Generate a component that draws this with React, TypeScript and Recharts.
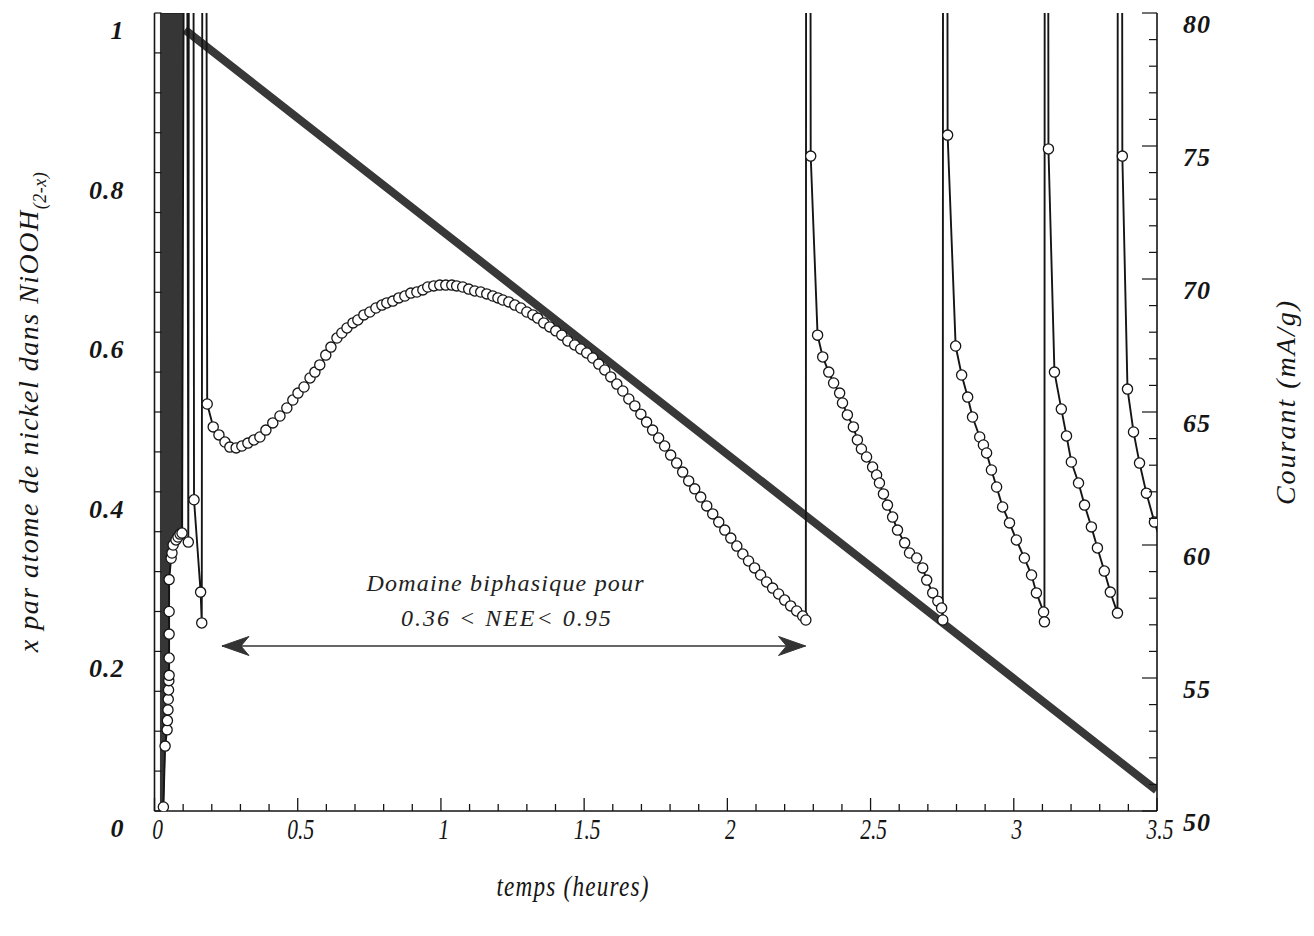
import React from 'react';
import { ComposedChart, Line, Area, XAxis, YAxis, ReferenceDot, Label } from 'recharts';

const FONT = '"Liberation Serif", "Times New Roman", Times, serif';
const INK = '#151515';

// ---- tick values ----
const xTicks = [0, 0.1, 0.2, 0.3, 0.4, 0.5, 0.6, 0.7, 0.8, 0.9, 1, 1.1, 1.2, 1.3, 1.4, 1.5, 1.6, 1.7, 1.8, 1.9, 2, 2.1, 2.2, 2.3, 2.4, 2.5, 2.6, 2.7, 2.8, 2.9, 3, 3.1, 3.2, 3.3, 3.4, 3.5];
const leftTicks = [0, 0.05, 0.1, 0.15, 0.2, 0.25, 0.3, 0.35, 0.4, 0.45, 0.5, 0.55, 0.6, 0.65, 0.7, 0.75, 0.8, 0.85, 0.9, 0.95, 1];
const rightTicks = [50, 51, 52, 53, 54, 55, 56, 57, 58, 59, 60, 61, 62, 63, 64, 65, 66, 67, 68, 69, 70, 71, 72, 73, 74, 75, 76, 77, 78, 79, 80];

// ---- x (NEE) vs time : thick line, left axis ----
const nickelTime = [0.106, 1.0, 2.0, 3.498];
const nickelX = [0.979, 0.728, 0.447, 0.026];

// ---- dense oscillation band at start (right axis, envelope) ----
const bandTime = [0.019, 0.031, 0.037, 0.045, 0.049, 0.051, 0.058, 0.065, 0.082, 0.1];
const bandLow = [50, 50, 52.4, 53.4, 54.6, 58.7, 59.5, 60.0, 60.3, 60.45];
const bandHigh = [80, 80, 80, 80, 80, 80, 80, 80, 80, 80];

// ---- current (mA/g) vs time, right axis; values above 80 are off-scale spikes ----
const currentTime = [
  0.031, 0.037, 0.044, 0.045, 0.047, 0.048, 0.049, 0.05, 0.051, 0.051, 0.051, 0.051, 0.051, 0.058, 0.061, 0.065, 0.075, 0.082, 0.089, 0.096,
  0.103, 0.114, 0.118, 0.12, 0.136, 0.138, 0.161, 0.165, 0.167, 0.181,
  0.184, 0.205, 0.225, 0.246, 0.263, 0.285, 0.305, 0.326, 0.347, 0.368, 0.389, 0.413, 0.438, 0.462, 0.483, 0.501, 0.522, 0.543, 0.56, 0.577,
  0.598, 0.616, 0.637, 0.654, 0.672, 0.693, 0.71, 0.731, 0.752, 0.773, 0.794, 0.811, 0.832, 0.853, 0.874, 0.895, 0.916, 0.937, 0.954, 0.975,
  0.996, 1.017, 1.038, 1.055, 1.076, 1.097, 1.118, 1.139, 1.16, 1.181, 1.199, 1.216, 1.237, 1.258, 1.279, 1.3, 1.321, 1.338, 1.359, 1.38,
  1.401, 1.422, 1.443, 1.467, 1.488, 1.509, 1.53, 1.551, 1.572, 1.593, 1.614, 1.635, 1.656, 1.677, 1.698, 1.718, 1.739, 1.76, 1.781, 1.802,
  1.823, 1.844, 1.865, 1.886, 1.907, 1.928, 1.949, 1.97, 1.991, 2.012, 2.033, 2.054, 2.074, 2.095, 2.116, 2.137, 2.158, 2.179, 2.2, 2.221,
  2.242, 2.263, 2.274,
  2.275, 2.29,
  2.291, 2.315, 2.333, 2.354, 2.371, 2.392, 2.402, 2.419, 2.44, 2.454, 2.468, 2.486, 2.507, 2.521, 2.531, 2.545, 2.559, 2.577, 2.594, 2.619,
  2.636, 2.661, 2.682, 2.696, 2.717, 2.735, 2.748, 2.752,
  2.753, 2.768,
  2.769, 2.797, 2.818, 2.839, 2.856, 2.881, 2.894, 2.905, 2.922, 2.94, 2.961, 2.985, 3.009, 3.037, 3.062, 3.079, 3.104, 3.107,
  3.108, 3.12,
  3.121, 3.142, 3.166, 3.184, 3.201, 3.226, 3.247, 3.271, 3.292, 3.316, 3.337, 3.362,
  3.363, 3.378,
  3.379, 3.397, 3.418, 3.439, 3.463, 3.491, 3.52,
];
const currentValue = [
  50.15, 52.44, 53.05, 53.4, 53.8, 54.2, 54.55, 54.9, 55.1, 55.75, 56.65, 57.5, 58.7, 59.5, 59.7, 60.0, 60.19, 60.3, 60.41, 60.45,
  85, 85, 60.11, 85, 85, 61.7, 58.23, 57.07, 85, 85,
  65.3, 64.44, 64.14, 63.87, 63.68, 63.65, 63.72, 63.83, 63.95, 64.06, 64.32, 64.59, 64.85, 65.15, 65.45, 65.71, 65.94, 66.28, 66.5, 66.77,
  67.14, 67.44, 67.78, 67.97, 68.16, 68.35, 68.46, 68.65, 68.76, 68.91, 69.02, 69.1, 69.17, 69.29, 69.36, 69.47, 69.51, 69.59, 69.7, 69.74,
  69.77, 69.77, 69.77, 69.74, 69.7, 69.62, 69.55, 69.51, 69.44, 69.36, 69.29, 69.21, 69.14, 69.02, 68.91, 68.76, 68.65, 68.53, 68.35, 68.2,
  68.05, 67.89, 67.67, 67.52, 67.37, 67.22, 67.03, 66.8, 66.58, 66.32, 66.05, 65.79, 65.49, 65.23, 64.92, 64.62, 64.32, 64.02, 63.72, 63.38,
  63.08, 62.74, 62.41, 62.11, 61.8, 61.47, 61.17, 60.86, 60.56, 60.26, 59.96, 59.66, 59.4, 59.14, 58.87, 58.61, 58.38, 58.16, 57.93, 57.71,
  57.52, 57.33, 57.18,
  85, 85,
  74.62, 67.89, 67.07, 66.5, 66.09, 65.71, 65.34, 64.89, 64.44, 63.95, 63.61, 63.31, 62.93, 62.63, 62.33, 61.92, 61.5, 61.05, 60.56, 60.08,
  59.7, 59.51, 59.14, 58.68, 58.2, 57.89, 57.63, 57.18,
  85, 85,
  75.41, 67.48, 66.39, 65.56, 64.81, 64.06, 63.76, 63.46, 62.82, 62.18, 61.43, 60.83, 60.19, 59.51, 58.87, 58.2, 57.48, 57.11,
  85, 85,
  74.89, 66.5, 65.11, 64.1, 63.12, 62.33, 61.5, 60.68, 59.89, 59.02, 58.23, 57.44,
  85, 85,
  74.62, 65.86, 64.25, 63.08, 61.95, 60.86, 59.9,
];

// ---- annotation: double arrow and text (left-axis units) ----
const arrowTime = [0.2355, 2.273];
const arrowLevel = [0.2068, 0.2068];
const annotTime = [1.226, 1.23];
const annotLevel = [0.2757, 0.2318];
const annotText = ['Domaine biphasique pour', '0.36 < NEE< 0.95'];

const nickelData = nickelTime.map((t, i) => ({ t, x: nickelX[i] }));
const bandData = bandTime.map((t, i) => ({ t, band: [bandLow[i], bandHigh[i]] }));
const currentData = currentTime.map((t, i) => ({ t, v: currentValue[i] }));
const arrowData = arrowTime.map((t, i) => ({ t, a: arrowLevel[i] }));

const near = (a: number, b: number) => Math.abs(a - b) < 1e-6;

const BottomTick = (p: any) => {
  const { x, y, payload } = p;
  const v = payload.value;
  const major = near(v * 2, Math.round(v * 2));
  return (
    <g>
      <line x1={x} y1={y} x2={x} y2={y - (major ? 13 : 7)} stroke={INK} strokeWidth={1.3} />
      {major && (
        <text transform={`translate(${x + 3},${y + 28}) scale(0.74,1)`} textAnchor="middle" fontFamily={FONT}
          fontStyle="italic" fontSize={29} fill={INK}>
          {v === 0 ? '0' : String(v)}
        </text>
      )}
    </g>
  );
};

const TopTick = (p: any) => {
  const { x, y, payload } = p;
  const v = payload.value;
  const major = near(v * 2, Math.round(v * 2));
  return <line x1={x} y1={y} x2={x} y2={y + (major ? 15 : 7)} stroke={INK} strokeWidth={1.3} />;
};

const LeftTick = (p: any) => {
  const { x, y, payload } = p;
  const v = payload.value;
  const major = near(v * 5, Math.round(v * 5));
  const txt = v === 0 ? '0' : v === 1 ? '1' : v.toFixed(1);
  return (
    <g>
      <line x1={x} y1={y} x2={x + 7} y2={y} stroke={INK} strokeWidth={1.2} />
      {major && (
        <text x={x - 30} y={y + 26} textAnchor="end" fontFamily={FONT} fontStyle="italic" fontWeight="bold"
          fontSize={26} letterSpacing={1} fill={INK}>
          {txt}
        </text>
      )}
    </g>
  );
};

const RightTick = (p: any) => {
  const { x, y, payload } = p;
  const v = payload.value;
  const major = v % 5 === 0;
  return (
    <g>
      <line x1={x} y1={y} x2={x - (major ? 15 : 8)} y2={y} stroke={INK} strokeWidth={1.2} />
      {major && (
        <text x={x + 26} y={y + 20} textAnchor="start" fontFamily={FONT} fontStyle="italic" fontWeight="bold"
          fontSize={26} letterSpacing={1} fill={INK}>
          {String(v)}
        </text>
      )}
    </g>
  );
};

const CurrentDot = (p: any) => {
  const { cx, cy, payload, index } = p;
  if (cx == null || cy == null || payload.v > 80 || payload.t > 3.5) return <g key={`cd-${index}`} />;
  return <circle key={`cd-${index}`} cx={cx} cy={cy} r={5.1} fill="#ffffff" stroke={INK} strokeWidth={1.3} />;
};

const ArrowHead = (p: any) => {
  const { cx, cy, index } = p;
  if (cx == null || cy == null) return <g key={`ah-${index}`} />;
  const d = index === 0 ? 1 : -1;
  const pts = `${cx},${cy} ${cx + d * 27},${cy - 9.5} ${cx + d * 19},${cy} ${cx + d * 27},${cy + 9.5}`;
  return <polygon key={`ah-${index}`} points={pts} fill="#333" stroke="#333" strokeWidth={1} />;
};

const makeAnnot = (i: number) => (p: any) => (
  <text x={p.cx} y={p.cy} textAnchor="middle" fontFamily={FONT} fontStyle="italic" fontSize={24}
    letterSpacing={i === 0 ? 1.2 : 2} fill="#222">
    {annotText[i]}
  </text>
);

const LeftTitle = () => (
  <text transform="rotate(-90 30 404)" x={30} y={404} textAnchor="middle" fontFamily={FONT} fontStyle="italic"
    fontSize={28} letterSpacing={1.5} fill={INK}>
    x par atome de nickel dans NiOOH
    <tspan fontSize={18} dy={8} letterSpacing={0.5}>(2-x)</tspan>
  </text>
);

const RightTitle = () => (
  <text transform="rotate(-90 1287 394)" x={1287} y={394} textAnchor="middle" fontFamily={FONT} fontStyle="italic"
    fontSize={28} letterSpacing={2} fill={INK}>
    Courant (mA/g)
  </text>
);

const BottomTitle = () => (
  <text transform="translate(565,888) scale(0.8,1)" textAnchor="middle" fontFamily={FONT} fontStyle="italic"
    fontSize={29} letterSpacing={1.5} fill={INK}>
    temps (heures)
  </text>
);

export default function App() {
  return (
    <div style={{ width: 1300, height: 920, background: '#fff' }}>
      <ComposedChart width={1300} height={920} margin={{ top: 5, right: 0, bottom: 0, left: 0 }}>
        <XAxis xAxisId="b" dataKey="t" type="number" domain={[0, 3.5]} ticks={xTicks} interval={0} allowDataOverflow
          tickSize={0} tickMargin={0} tickLine={false} tick={(p: any) => <BottomTick {...p} />} height={117}
          axisLine={{ stroke: INK, strokeWidth: 1.6 }}>
          <Label content={BottomTitle} />
        </XAxis>
        <XAxis xAxisId="t" dataKey="t" orientation="top" type="number" domain={[0, 3.5]} ticks={xTicks} interval={0}
          allowDataOverflow tickSize={0} tickMargin={0} tickLine={false} tick={(p: any) => <TopTick {...p} />} height={0}
          axisLine={{ stroke: INK, strokeWidth: 1.6 }} />
        <YAxis yAxisId="left" orientation="left" type="number" domain={[0, 1]} ticks={leftTicks} interval={0}
          allowDataOverflow tickSize={0} tickMargin={0} tickLine={false} tick={(p: any) => <LeftTick {...p} />} width={146.5}
          axisLine={{ stroke: INK, strokeWidth: 1.6 }}>
          <Label content={LeftTitle} />
        </YAxis>
        <YAxis yAxisId="right" orientation="right" type="number" domain={[50, 80]} ticks={rightTicks} interval={0}
          allowDataOverflow tickSize={0} tickMargin={0} tickLine={false} tick={(p: any) => <RightTick {...p} />} width={151}
          axisLine={{ stroke: INK, strokeWidth: 1.6 }}>
          <Label content={RightTitle} />
        </YAxis>

        <Area xAxisId="b" yAxisId="right" data={bandData} dataKey="band" type="linear" fill="#363636" fillOpacity={1}
          stroke={INK} strokeWidth={1} dot={false} activeDot={false} isAnimationActive={false} />
        <Line xAxisId="b" yAxisId="left" data={nickelData} dataKey="x" type="linear" stroke="#383838" strokeWidth={8}
          dot={false} activeDot={false} isAnimationActive={false} />
        <Line xAxisId="b" yAxisId="right" data={currentData} dataKey="v" type="linear" stroke={INK} strokeWidth={1.9}
          dot={CurrentDot} activeDot={false} isAnimationActive={false} />
        <Line xAxisId="b" yAxisId="left" data={arrowData} dataKey="a" type="linear" stroke="#333" strokeWidth={1.4}
          dot={ArrowHead} activeDot={false} isAnimationActive={false} />

        <ReferenceDot xAxisId="b" yAxisId="left" x={annotTime[0]} y={annotLevel[0]} r={0} shape={makeAnnot(0)} />
        <ReferenceDot xAxisId="b" yAxisId="left" x={annotTime[1]} y={annotLevel[1]} r={0} shape={makeAnnot(1)} />
      </ComposedChart>
    </div>
  );
}
